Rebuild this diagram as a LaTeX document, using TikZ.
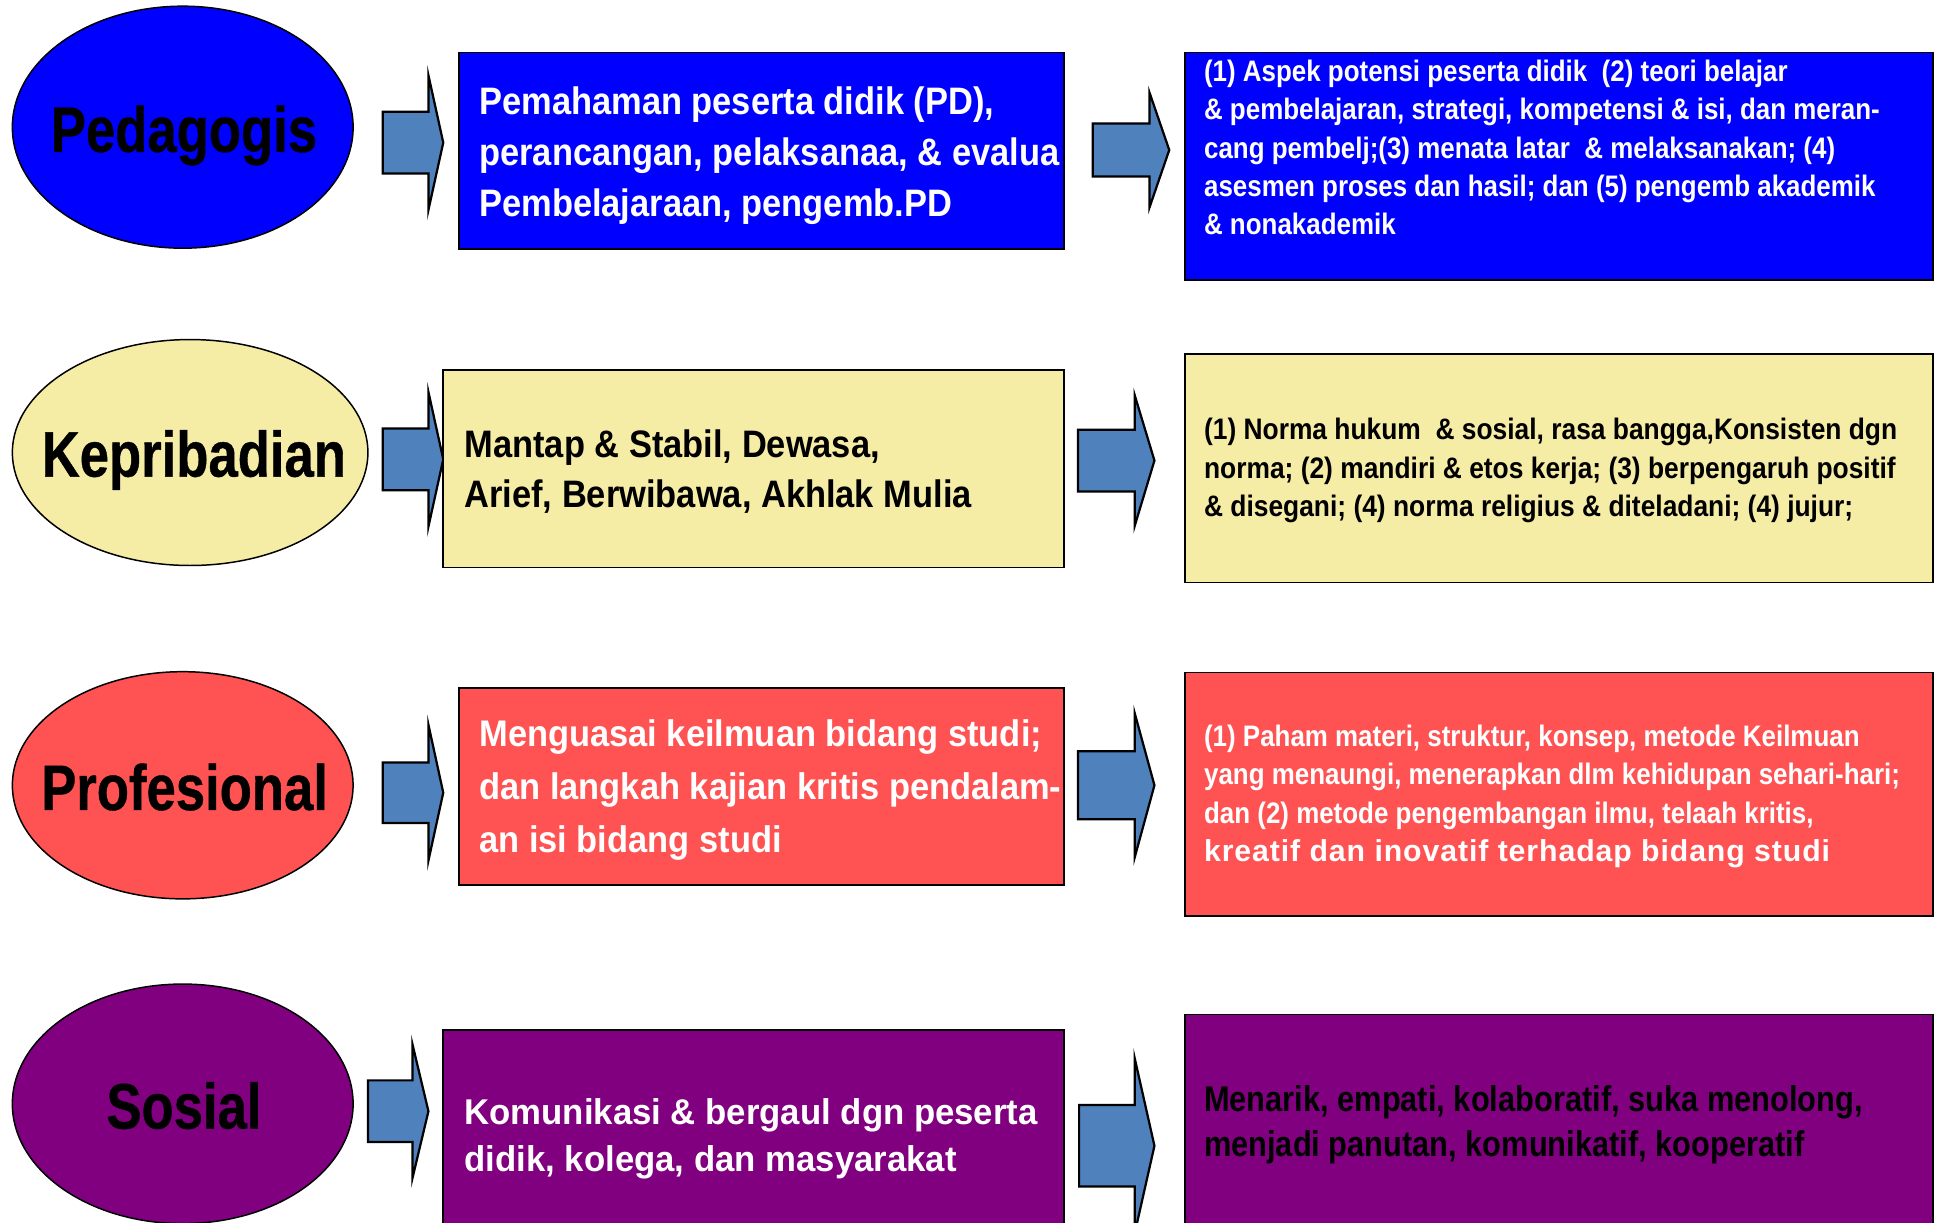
\documentclass[tikz,border=0pt]{standalone}
\usepackage{fontspec}
\setmainfont{Liberation Sans}
\newfontfamily\fEl{Liberation Sans}[FakeStretch=0.82,FakeBold=0.6]
\newfontfamily\fMa{Liberation Sans}[FakeStretch=0.90]
\newfontfamily\fMb{Liberation Sans}[FakeStretch=0.93]
\newfontfamily\fMc{Liberation Sans}[FakeStretch=0.97]
\newfontfamily\fRa{Liberation Sans}[FakeStretch=0.875]
\newfontfamily\fRb{Liberation Sans}[FakeStretch=0.89]
\newfontfamily\fRd{Liberation Sans}[FakeStretch=0.86]
\newfontfamily\fWide{Liberation Sans}[LetterSpace=3]
\usetikzlibrary{shapes.geometric}
\definecolor{cBlue}{RGB}{0,0,255}
\definecolor{cYel}{RGB}{245,236,166}
\definecolor{cRed}{RGB}{255,82,82}
\definecolor{cPur}{RGB}{128,0,128}
\definecolor{cArr}{RGB}{79,129,189}
\tikzset{
  oval/.style={ellipse, draw=black, line width=1.2pt, inner sep=0pt},
  panel/.style={rectangle, draw=black, line width=1.3pt, inner sep=0pt, anchor=north west},
  blk/.style={fill=cArr, draw=black, line width=1.8pt, line join=miter},
  lbl/.style={anchor=base, inner sep=0pt, text=black, font=\fEl\bfseries\fontsize{52}{60}\selectfont},
  txt/.style={anchor=west, inner sep=0pt, align=left},
}
\newcommand\barr[6]{\draw[blk] (#1,#4-#5) -- (#2,#4-#5) -- (#2,#4-#6) -- (#3,#4) -- (#2,#4+#6) -- (#2,#4+#5) -- (#1,#4+#5) -- cycle;}
\begin{document}
\begin{tikzpicture}[x=1pt,y=-1pt]
\useasboundingbox (0,0) rectangle (1568,990);
\clip (0,0) rectangle (1568,990);
\fill[white] (0,0) rectangle (1568,990);

% ellipses
\node[oval, fill=cBlue, minimum width=276, minimum height=196] (e1) at (148,103) {};
\node[oval, fill=cYel, minimum width=288, minimum height=183] (e2) at (154,366.5) {};
\node[oval, fill=cRed, minimum width=276, minimum height=184] (e3) at (148,636) {};
\node[oval, fill=cPur, minimum width=276, minimum height=194] (e4) at (148,894) {};
\node[lbl] (l1) at (149,123) {Pedagogis};
\node[lbl] (l2) at (157,386) {Kepribadian};
\node[lbl] (l3) at (149.5,656) {Profesional};
\node[lbl] (l4) at (149,914) {Sosial};

% block arrows
\barr{310}{347}{359}{115.5}{25}{54.5}
\barr{885}{931}{947}{121.5}{21.5}{46.5}
\barr{310}{347}{359}{372}{25}{54.5}
\barr{873}{919}{935}{373}{25}{53}
\barr{310}{347}{359}{642}{24.5}{55}
\barr{873}{919}{935}{636}{27.5}{58.5}
\barr{298}{334}{347}{900}{25}{54.5}
\barr{874}{919}{935}{928}{33}{71}

% boxes
\node[panel, fill=cBlue, minimum width=490, minimum height=159] (b1) at (371,42) {};
\node[panel, fill=cBlue, minimum width=606, minimum height=184] (c1) at (959,42) {};
\node[panel, fill=cYel, minimum width=503, minimum height=160] (b2) at (358,299) {};
\node[panel, fill=cYel, minimum width=606, minimum height=185] (c2) at (959,286) {};
\node[panel, fill=cRed, minimum width=490, minimum height=159.5] (b3) at (371,556.5) {};
\node[panel, fill=cRed, minimum width=606, minimum height=197] (c3) at (959,544) {};
\node[panel, fill=cPur, minimum width=503, minimum height=200] (b4) at (358,833.5) {};
\node[panel, fill=cPur, minimum width=606, minimum height=200] (c4) at (959,821) {};

% texts
\node[txt, text=white, font=\fMa\bfseries\fontsize{31}{41}\selectfont] (t1) at (388,126)
  {Pemahaman peserta didik (PD),\\perancangan, pelaksanaa, \& evalua\\Pembelajaraan, pengemb.PD};
\node[txt, text=white, font=\fRa\bfseries\fontsize{24}{31}\selectfont] (u1) at (975,119.5)
  {(1) Aspek potensi peserta didik\ \ (2) teori belajar\\\& pembelajaran, strategi, kompetensi \& isi, dan meran-\\cang pembelj;(3) menata latar\ \ \& melaksanakan; (4)\\asesmen proses dan hasil; dan (5) pengemb akademik\\\& nonakademik};
\node[txt, text=black, font=\fMa\bfseries\fontsize{31}{41}\selectfont] (t2) at (376,382)
  {Mantap \& Stabil, Dewasa,\\Arief, Berwibawa, Akhlak Mulia};
\node[txt, text=black, font=\fRb\bfseries\fontsize{24}{31}\selectfont] (u2) at (975,381)
  {(1) Norma hukum\ \ \& sosial, rasa bangga,Konsisten dgn\\norma; (2) mandiri \& etos kerja; (3) berpengaruh positif\\\& disegani; (4) norma religius \& diteladani; (4) jujur;};
\node[txt, text=white, font=\fMb\bfseries\fontsize{30}{43}\selectfont] (t3) at (388,640)
  {Menguasai keilmuan bidang studi;\\dan langkah kajian kritis pendalam-\\an isi bidang studi};
\node[txt, text=white, font=\fRa\bfseries\fontsize{24}{31}\selectfont] (u3) at (975,645)
  {(1) Paham materi, struktur, konsep, metode Keilmuan\\yang menaungi, menerapkan dlm kehidupan sehari-hari;\\dan (2) metode pengembangan ilmu, telaah kritis,\\{\fWide\fontsize{24.5}{31}\selectfont kreatif dan inovatif terhadap bidang studi}};
\node[txt, text=white, font=\fMc\bfseries\fontsize{29}{38}\selectfont] (t4) at (376,922)
  {Komunikasi \& bergaul dgn peserta\\didik, kolega, dan masyarakat};
\node[txt, text=black, font=\fRd\bfseries\fontsize{29}{36}\selectfont] (u4) at (975,911)
  {Menarik, empati, kolaboratif, suka menolong,\\menjadi panutan, komunikatif, kooperatif};
\end{tikzpicture}
\end{document}
